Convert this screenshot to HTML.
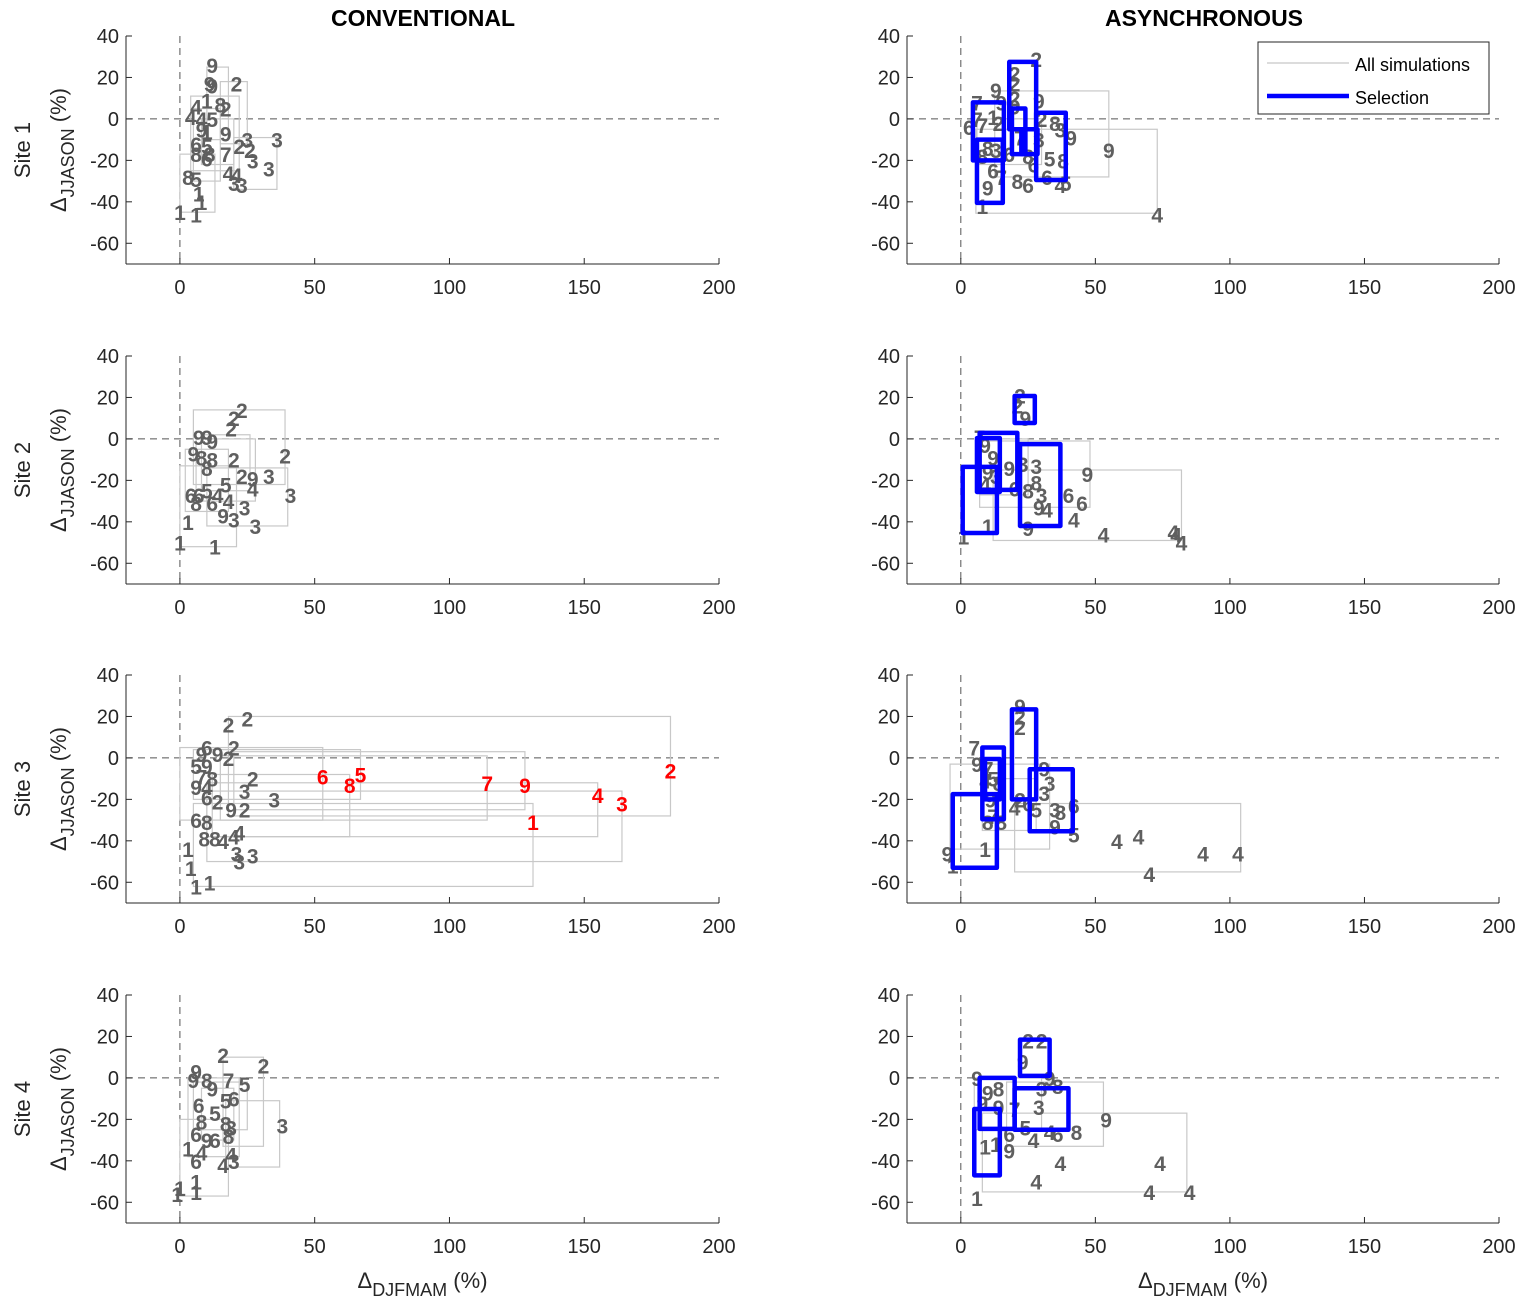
<!DOCTYPE html>
<html><head><meta charset="utf-8"><style>
body{margin:0;background:#fff}
svg{display:block;font-family:"Liberation Sans",Arial,sans-serif}
</style></head><body>
<svg id="c" width="1532" height="1310" xmlns="http://www.w3.org/2000/svg"></svg>
<script>
const xTicks=[0,50,100,150,200];
const yTicks=[40,20,0,-20,-40,-60];
const siteNames=["Site 1","Site 2","Site 3","Site 4"];
const colTitles=["CONVENTIONAL","ASYNCHRONOUS"];
// conventional
const c1Boxes=[[10,18,-10,25],[15,25,-12,18],[4,22,-25,11],[20,36,-34,-9],[0,13,-45,-17],[5,15,-30,5],[8,20,-22,0]];
const c1Labels=[[12,26,'9'],[11,17,'9'],[12,16,'9'],[21,17,'2'],[6,6,'4'],[10,9,'1'],[15,7,'8'],[17,5,'2'],[4,1,'4'],[8,0,'4'],[12,0,'5'],[8,-5,'9'],[10,-6,'1'],[17,-7,'9'],[25,-10,'3'],[36,-10,'3'],[6,-12,'6'],[10,-13,'5'],[22,-13,'2'],[26,-15,'2'],[6,-17,'8'],[11,-17,'8'],[17,-17,'7'],[27,-20,'3'],[10,-19,'6'],[33,-24,'3'],[18,-26,'4'],[21,-27,'4'],[20,-31,'3'],[23,-32,'3'],[3,-28,'8'],[6,-29,'5'],[8,-40,'1'],[7,-36,'1'],[0,-45,'1'],[6,-46,'1']];
const c2Boxes=[[0,21,-52,-13],[10,40,-42,-14],[5,39,-22,14],[6,28,-30,0],[2,18,-35,-5],[8,26,-25,2]];
const c2Labels=[[23,14,'2'],[20,10,'2'],[19,5,'2'],[7,1,'9'],[10,1,'9'],[12,-1,'9'],[20,-10,'2'],[39,-8,'2'],[5,-7,'9'],[8,-9,'8'],[12,-10,'8'],[10,-14,'8'],[23,-18,'2'],[27,-19,'9'],[33,-18,'3'],[27,-24,'4'],[41,-27,'3'],[4,-27,'6'],[7,-27,'6'],[10,-25,'5'],[14,-27,'4'],[17,-22,'5'],[6,-31,'8'],[12,-31,'6'],[18,-30,'4'],[24,-33,'3'],[16,-37,'9'],[20,-39,'3'],[28,-42,'3'],[0,-50,'1'],[13,-52,'1'],[3,-40,'1']];
const c3Boxes=[[18,182,-28,20],[0,53,-30,5],[5,131,-62,-22],[10,164,-50,-16],[10,155,-38,-12],[20,128,-25,3],[15,114,-30,1],[12,63,-38,-8],[5,67,-20,4]];
const c3Labels=[[25,19,'2'],[18,16,'2'],[10,5,'6'],[20,5,'2'],[8,2,'9'],[14,2,'9'],[18,0,'2'],[6,-4,'5'],[10,-4,'9'],[27,-10,'2'],[8,-9,'7'],[12,-10,'8'],[24,-16,'3'],[35,-20,'3'],[6,-14,'9'],[10,-14,'4'],[10,-19,'6'],[14,-21,'2'],[24,-25,'2'],[19,-25,'9'],[6,-30,'6'],[10,-31,'8'],[20,-38,'4'],[22,-36,'4'],[9,-39,'8'],[13,-39,'8'],[16,-40,'4'],[21,-46,'3'],[27,-47,'3'],[22,-50,'3'],[4,-53,'1'],[3,-44,'1'],[6,-62,'1'],[11,-60,'1']];
const c3Red=[[53,-9,'6'],[63,-13,'8'],[67,-8,'5'],[114,-12,'7'],[128,-13,'9'],[182,-6,'2'],[155,-18,'4'],[164,-22,'3'],[131,-31,'1']];
const c4Boxes=[[0,18,-57,-20],[17,37,-43,-11],[16,31,-33,10],[5,25,-25,-2],[3,22,-38,0],[8,20,-30,-5]];
const c4Labels=[[16,11,'2'],[31,6,'2'],[6,3,'9'],[10,-1,'8'],[18,-1,'7'],[24,-3,'5'],[5,-1,'9'],[12,-5,'9'],[17,-11,'5'],[20,-10,'6'],[7,-13,'6'],[13,-17,'5'],[8,-21,'8'],[17,-22,'8'],[19,-24,'3'],[38,-23,'3'],[6,-27,'6'],[10,-30,'9'],[13,-30,'6'],[18,-28,'8'],[3,-34,'1'],[8,-36,'4'],[6,-40,'6'],[19,-37,'4'],[16,-42,'4'],[20,-40,'3'],[6,-50,'1'],[0,-53,'1'],[6,-55,'1'],[-1,-56,'1']];
// asynchronous
const a1Boxes=[[12.6,55,-28,13.5],[5.6,73,-45.5,-5],[6,30,-22,0]];
const a1Sel=[[4.5,16,-20,8],[6,15.6,-40.5,-10],[18,28,-5,27.5],[19,24,-17,5],[22.5,28.5,-17,-5],[28,39,-29.5,3]];
const a1Labels=[[28,29,'2'],[20,22,'2'],[20,17,'2'],[13,14,'9'],[15,8,'9'],[20,10,'2'],[20,6,'9'],[29,9,'9'],[6,8,'7'],[6,0,'7'],[3,-4,'6'],[12,1,'1'],[8,-3,'7'],[14,-2,'2'],[30,0,'2'],[35,-2,'8'],[37,-5,'3'],[41,-9,'9'],[55,-15,'9'],[22,-9,'7'],[29,-10,'3'],[10,-14,'8'],[13,-15,'3'],[8,-18,'8'],[18,-17,'6'],[25,-18,'8'],[27,-22,'6'],[33,-19,'5'],[38,-20,'8'],[12,-25,'6'],[15,-28,'7'],[10,-33,'9'],[21,-30,'8'],[25,-32,'6'],[32,-28,'6'],[37,-32,'4'],[39,-31,'5'],[73,-46,'4'],[8,-42,'1']];
const a2Boxes=[[7,48,-33,-1],[12,82,-49,-15],[7,25,-27,0]];
const a2Sel=[[0.7,13.4,-45.4,-13.5],[7,21,-24.6,2.9],[22,37,-42,-2.5],[20,27.5,7.7,20.7],[6,14.5,-25.6,0.4]];
const a2Labels=[[22,21,'2'],[21,16,'2'],[24,10,'9'],[7,1,'7'],[9,-3,'9'],[12,-9,'9'],[10,-16,'9'],[13,-18,'3'],[18,-14,'9'],[23,-12,'3'],[28,-13,'3'],[9,-22,'4'],[20,-24,'6'],[25,-25,'8'],[28,-21,'8'],[47,-17,'9'],[30,-27,'3'],[40,-27,'6'],[45,-31,'6'],[29,-33,'9'],[32,-34,'4'],[42,-39,'4'],[25,-43,'9'],[10,-42,'1'],[1,-47,'1'],[53,-46,'4'],[79,-45,'4'],[80,-46,'4'],[82,-50,'4']];
const a3Boxes=[[-4,33,-44,-3],[20,104,-55,-22],[8,28,-35,-10]];
const a3Sel=[[-3,13.4,-53,-17.5],[8,16,-29.6,5],[19,28,-20,23.4],[25.6,41.6,-35.4,-5.5],[9,14.5,-20,-0.5]];
const a3Labels=[[22,25,'9'],[22,20,'2'],[22,15,'2'],[5,5,'7'],[6,-3,'9'],[10,-5,'7'],[12,-10,'5'],[9,-11,'4'],[14,-12,'8'],[31,-5,'9'],[33,-12,'3'],[31,-17,'3'],[11,-20,'9'],[22,-20,'2'],[25,-22,'6'],[20,-24,'4'],[28,-25,'5'],[35,-25,'3'],[42,-23,'6'],[37,-26,'8'],[12,-28,'7'],[10,-31,'8'],[15,-31,'8'],[35,-33,'9'],[42,-37,'5'],[58,-40,'4'],[66,-38,'4'],[9,-44,'1'],[-5,-46,'9'],[90,-46,'4'],[103,-46,'4'],[70,-56,'4'],[-3,-52,'1']];
const a4Boxes=[[8,84,-55,-17],[17,53,-33,-2],[5,30,-25,0]];
const a4Sel=[[5,14.5,-47,-15],[7,20,-24.6,0],[22,33,1,18.5],[20,40,-25,-5]];
const a4Labels=[[25,18,'2'],[30,18,'2'],[23,8,'9'],[6,0,'9'],[10,-7,'9'],[14,-5,'8'],[33,0,'9'],[30,-5,'3'],[36,-4,'8'],[8,-12,'9'],[14,-14,'9'],[20,-15,'7'],[29,-14,'3'],[24,-24,'5'],[43,-26,'8'],[54,-20,'9'],[36,-27,'6'],[33,-26,'4'],[18,-27,'6'],[27,-30,'4'],[9,-33,'1'],[13,-32,'1'],[18,-35,'9'],[37,-41,'4'],[74,-41,'4'],[28,-50,'4'],[70,-55,'4'],[85,-55,'4'],[6,-58,'1']];

const panels=[
 [c1Boxes,null,c1Labels,null],[a1Boxes,a1Sel,a1Labels,null],
 [c2Boxes,null,c2Labels,null],[a2Boxes,a2Sel,a2Labels,null],
 [c3Boxes,null,c3Labels,c3Red],[a3Boxes,a3Sel,a3Labels,null],
 [c4Boxes,null,c4Labels,null],[a4Boxes,a4Sel,a4Labels,null]];

const NS="http://www.w3.org/2000/svg";
const svg=document.getElementById('c');
function mk(tag,attrs,parent,txt){const e=document.createElementNS(NS,tag);for(const k in attrs)e.setAttribute(k,attrs[k]);if(txt!==undefined)e.textContent=txt;(parent||svg).appendChild(e);return e;}
const rowTop=[36,356,675,995];
const colX0=[126,907], colX1=[719,1499];
function axes(col,row){
  const x0=colX0[col],x1=colX1[col],top=rowTop[row],bot=top+228;
  const sx=v=>x0+(v+20)/220*(x1-x0);
  const sy=v=>top+(40-v)/110*228;
  return {sx,sy,x0,x1,top,bot};
}
panels.forEach((p,i)=>{
  const col=i%2,row=Math.floor(i/2);
  const A=axes(col,row);
  const g=mk('g',{});
  
  
  const zl=mk('line',{x1:A.sx(0),x2:A.sx(0),y1:A.top,y2:A.bot,stroke:'#555','stroke-width':1,'stroke-dasharray':'7,5'},g);
  
  const zh=mk('line',{x1:A.x0,x2:A.x1,y1:A.sy(0),y2:A.sy(0),stroke:'#555','stroke-width':1,'stroke-dasharray':'7,5'},g);
  
  p[0].forEach(b=>{const r=mk('rect',{x:A.sx(b[0]),y:A.sy(b[3]),width:A.sx(b[1])-A.sx(b[0]),height:A.sy(b[2])-A.sy(b[3]),fill:'none',stroke:'#c8c8c8','stroke-width':1.2},g);
    });
  p[2].forEach(l=>{const t=mk('text',{x:A.sx(l[0]),y:A.sy(l[1])+8,'text-anchor':'middle','font-size':21,'font-weight':'bold',fill:'#5f5f5f'},g,l[2]);
    });
  if(p[3])p[3].forEach(l=>{const t=mk('text',{x:A.sx(l[0]),y:A.sy(l[1])+8,'text-anchor':'middle','font-size':21,'font-weight':'bold',fill:'#f00'},g,l[2]);
    });
  if(p[1])p[1].forEach(b=>{const r=mk('rect',{x:A.sx(b[0]),y:A.sy(b[3]),width:A.sx(b[1])-A.sx(b[0]),height:A.sy(b[2])-A.sy(b[3]),fill:'none',stroke:'#0000ff','stroke-width':4.5,'stroke-linejoin':'round'},g);
    });
  const ya=mk('line',{x1:A.x0,x2:A.x0,y1:A.top,y2:A.bot,stroke:'#262626','stroke-width':1},g);
  
  const xa=mk('line',{x1:A.x0,x2:A.x1,y1:A.bot,y2:A.bot,stroke:'#262626','stroke-width':1},g);
  
  yTicks.forEach(v=>{mk('line',{x1:A.x0,x2:A.x0+6,y1:A.sy(v),y2:A.sy(v),stroke:'#262626'},g);
    const t=mk('text',{x:A.x0-7,y:A.sy(v)+7,'text-anchor':'end','font-size':20,fill:'#262626'},g,v);
    });
  xTicks.forEach(v=>{mk('line',{x1:A.sx(v),x2:A.sx(v),y1:A.bot,y2:A.bot-6,stroke:'#262626'},g);
    const t=mk('text',{x:A.sx(v),y:A.bot+30,'text-anchor':'middle','font-size':20,fill:'#262626'},g,v);
    });
  if(col===0){
    const cy=(A.top+A.bot)/2;
    const s=mk('text',{x:30,y:cy,'text-anchor':'middle','font-size':22,fill:'#262626',transform:`rotate(-90 30 ${cy})`},g,siteNames[row]);
    
    const yl=mk('text',{x:66,y:cy,'text-anchor':'middle','font-size':22,fill:'#262626',transform:`rotate(-90 66 ${cy})`},g);
    
    mk('tspan',{},yl,'Δ');mk('tspan',{'font-size':18,dy:8},yl,'JJASON');mk('tspan',{dy:-8},yl,' (%)');
  }
  if(row===3){
    const xl=mk('text',{x:(A.x0+A.x1)/2,y:1288,'text-anchor':'middle','font-size':22,fill:'#262626'},g);
    
    mk('tspan',{},xl,'Δ');mk('tspan',{'font-size':18,dy:8},xl,'DJFMAM');mk('tspan',{dy:-8},xl,' (%)');
  }
});
colTitles.forEach((t,i)=>{const e=mk('text',{x:i?1204:423,y:26,'text-anchor':'middle','font-size':23,'font-weight':'bold',fill:'#000'},svg,t);
  });
const lg=mk('g',{});

mk('rect',{x:1258,y:42,width:231,height:72,fill:'#fff',stroke:'#262626','stroke-width':1},lg);
mk('line',{x1:1267,x2:1349,y1:63,y2:63,stroke:'#c8c8c8','stroke-width':1.2},lg);
const l1=mk('text',{x:1355,y:71,'font-size':18,fill:'#000'},lg,'All simulations');

mk('line',{x1:1267,x2:1349,y1:96,y2:96,stroke:'#0000ff','stroke-width':4.5},lg);
const l2=mk('text',{x:1355,y:104,'font-size':18,fill:'#000'},lg,'Selection');

</script>
</body></html>
